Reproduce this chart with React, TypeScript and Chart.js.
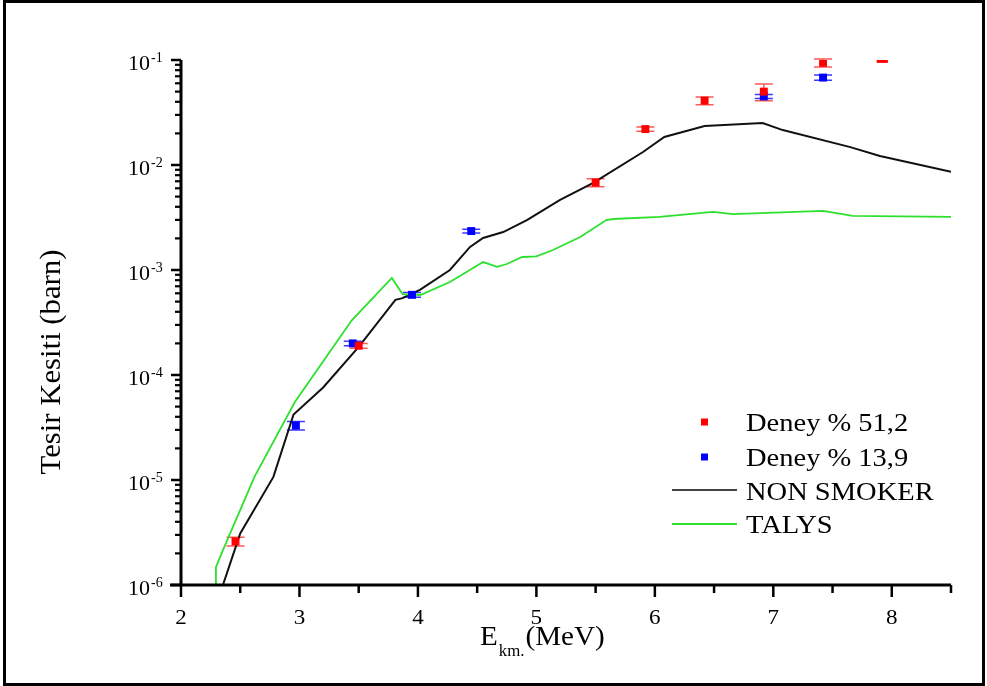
import React, { useEffect, useRef } from 'react';
import { Chart, registerables } from 'chart.js';

Chart.register(...registerables);

// ---- tick labels ----
const xTickValues = [2, 2.5, 3, 3.5, 4, 4.5, 5, 5.5, 6, 6.5, 7, 7.5, 8, 8.5];
const xTickLabels = ['2', '', '3', '', '4', '', '5', '', '6', '', '7', '', '8', ''];
const yDecadeValues = [1e-6, 1e-5, 1e-4, 1e-3, 1e-2, 1e-1];
const yDecadeExponents = ['-6', '-5', '-4', '-3', '-2', '-1'];
const yMinorMultipliers = [2, 3, 4, 5, 6, 7, 8, 9];

// ---- Deney % 51,2 (red) ----
const redX = [2.46, 3.5, 5.5, 5.92, 6.42, 6.92, 7.42, 7.92];
const redY = [2.6e-6, 1.9e-4, 6.8e-3, 0.022, 0.041, 0.05, 0.094, 0.097];
const redErr = [2.5e-7, 1e-5, 6e-4, 1e-3, 3.5e-3, 9e-3, 8e-3, 0];

// ---- Deney % 13,9 (blue) ----
const blueX = [2.97, 3.45, 3.95, 4.45, 6.92, 7.42];
const blueY = [3.3e-5, 2.0e-4, 5.8e-4, 2.35e-3, 0.045, 0.068];
const blueErr = [3e-6, 1e-5, 3e-5, 1e-4, 2e-3, 4e-3];

// ---- NON SMOKER ----
const nonSmokerX = [2.354, 2.5, 2.78, 2.95, 3.2, 3.5, 3.81, 3.87, 4.02, 4.27, 4.44, 4.55, 4.72, 4.92, 5.2, 5.48, 5.9, 6.08, 6.42, 6.91, 7.08, 7.65, 7.9, 8.5];
const nonSmokerY = [1e-6, 3.1e-6, 1.07e-5, 4.2e-5, 7.6e-5, 1.85e-4, 5.2e-4, 5.4e-4, 6.5e-4, 1e-3, 1.66e-3, 2.02e-3, 2.3e-3, 2.99e-3, 4.65e-3, 6.75e-3, 0.0133, 0.0185, 0.0235, 0.0251, 0.0215, 0.0148, 0.0122, 8.6e-3];

// ---- TALYS ----
const talysX = [2.29, 2.295, 2.354, 2.62, 2.96, 3.44, 3.78, 3.87, 4.02, 4.27, 4.55, 4.67, 4.75, 4.88, 5.0, 5.14, 5.37, 5.59, 5.65, 6.04, 6.49, 6.66, 7.42, 7.67, 8.5];
const talysY = [1e-6, 1.48e-6, 2.15e-6, 1.07e-5, 5.5e-5, 3.3e-4, 8.4e-4, 5.9e-4, 5.78e-4, 7.69e-4, 1.19e-3, 1.07e-3, 1.14e-3, 1.33e-3, 1.35e-3, 1.55e-3, 2.06e-3, 2.99e-3, 3.06e-3, 3.2e-3, 3.57e-3, 3.41e-3, 3.65e-3, 3.27e-3, 3.2e-3];

const legendLabels = ['Deney % 51,2', 'Deney % 13,9', 'NON SMOKER', 'TALYS'];

const SERIF = '"Liberation Serif", "Times New Roman", serif';
const RED = '#ff0000';
const BLUE = '#0000ff';
const GREEN = '#2ee02e';

const toPts = (xs: number[], ys: number[]) => xs.map((x, i) => ({ x, y: ys[i] }));

function drawText(ctx: CanvasRenderingContext2D, text: string, x: number, y: number, size: number, align: CanvasTextAlign, sx = 1) {
  ctx.save();
  ctx.translate(x, y);
  ctx.scale(sx, 1);
  ctx.font = `${size}px ${SERIF}`;
  ctx.textAlign = align;
  ctx.textBaseline = 'alphabetic';
  ctx.fillText(text, 0, 0);
  ctx.restore();
}

const errorBarPlugin = {
  id: 'errorBars',
  beforeDatasetsDraw(chart: any) {
    const { ctx, scales } = chart;
    const sets = [
      { xs: redX, ys: redY, es: redErr, color: '#ff5a5a' },
      { xs: blueX, ys: blueY, es: blueErr, color: '#3b3bff' },
    ];
    ctx.save();
    ctx.beginPath();
    ctx.rect(chart.chartArea.left, chart.chartArea.top - 2, chart.chartArea.width, chart.chartArea.height + 2);
    ctx.clip();
    sets.forEach((s) => {
      ctx.strokeStyle = s.color;
      ctx.lineWidth = 1.5;
      s.xs.forEach((xv, i) => {
        if (!s.es[i]) return;
        const px = scales.x.getPixelForValue(xv);
        const top = scales.y.getPixelForValue(s.ys[i] + s.es[i]);
        const bot = scales.y.getPixelForValue(s.ys[i] - s.es[i]);
        ctx.beginPath();
        ctx.moveTo(px, top);
        ctx.lineTo(px, bot);
        ctx.moveTo(px - 9, top);
        ctx.lineTo(px + 9, top);
        ctx.moveTo(px - 9, bot);
        ctx.lineTo(px + 9, bot);
        ctx.stroke();
      });
    });
    ctx.restore();
  },
};

const decorPlugin = {
  id: 'decor',
  afterDraw(chart: any) {
    const { ctx, scales, chartArea } = chart;
    const xs = scales.x;
    const ys = scales.y;
    ctx.save();
    ctx.fillStyle = '#000';
    ctx.strokeStyle = '#000';
    ctx.lineCap = 'butt';

    // axes lines
    ctx.lineWidth = 3;
    ctx.beginPath();
    ctx.moveTo(chartArea.left - 11, chartArea.bottom);
    ctx.lineTo(chartArea.right, chartArea.bottom);
    ctx.moveTo(chartArea.left, chartArea.top);
    ctx.lineTo(chartArea.left, chartArea.bottom + 1.5);
    ctx.stroke();

    // x ticks and labels
    ctx.lineWidth = 2.5;
    xTickValues.forEach((v, i) => {
      const px = xs.getPixelForValue(v);
      const major = xTickLabels[i] !== '';
      ctx.beginPath();
      ctx.moveTo(px, chartArea.bottom);
      ctx.lineTo(px, chartArea.bottom + (major ? 12 : 8));
      ctx.stroke();
      if (major) drawText(ctx, xTickLabels[i], px, chartArea.bottom + 38.5, 22, 'center', 1.05);
    });

    // y ticks and labels
    yDecadeValues.forEach((v, i) => {
      const py = ys.getPixelForValue(v);
      ctx.lineWidth = 2.5;
      ctx.beginPath();
      ctx.moveTo(chartArea.left - 10, py);
      ctx.lineTo(chartArea.left, py);
      ctx.stroke();
      if (i < yDecadeValues.length - 1) {
        ctx.lineWidth = 2.2;
        yMinorMultipliers.forEach((m) => {
          const pm = ys.getPixelForValue(v * m);
          ctx.beginPath();
          ctx.moveTo(chartArea.left - 6, pm);
          ctx.lineTo(chartArea.left, pm);
          ctx.stroke();
        });
      }
      drawText(ctx, '10', chartArea.left - 31, py + 10, 22, 'right', 1.0);
      drawText(ctx, yDecadeExponents[i], chartArea.left - 30, py + 2, 14, 'left', 1.0);
    });

    // x title with subscript
    ctx.font = `28px ${SERIF}`;
    const sxT = 1.04;
    let tx = 480;
    drawText(ctx, 'E', tx, 645, 28, 'left', sxT);
    ctx.font = `28px ${SERIF}`;
    tx += ctx.measureText('E').width * sxT + 1;
    drawText(ctx, 'km.', tx, 656, 16, 'left', 1.05);
    ctx.font = `16px ${SERIF}`;
    tx += ctx.measureText('km.').width * 1.05 + 1;
    drawText(ctx, '(MeV)', tx, 645, 28, 'left', sxT);

    // y title
    ctx.save();
    ctx.translate(60, 362);
    ctx.rotate(-Math.PI / 2);
    ctx.scale(1.06, 1);
    ctx.textAlign = 'center';
    ctx.font = `29px ${SERIF}`;
    ctx.fillText('Tesir Kesiti (barn)', 0, 0);
    ctx.restore();

    // legend
    const rows = [422, 457, 490, 524];
    const baselines = [431, 466, 500, 533];
    legendLabels.forEach((lab, i) => {
      const y = rows[i];
      if (i === 0 || i === 1) {
        ctx.fillStyle = i === 0 ? RED : BLUE;
        ctx.fillRect(701, y - 3.5, 7, 7);
      } else {
        ctx.strokeStyle = i === 2 ? '#444' : GREEN;
        ctx.lineWidth = 2;
        ctx.beginPath();
        ctx.moveTo(672, y);
        ctx.lineTo(737, y);
        ctx.stroke();
      }
      ctx.fillStyle = '#000';
      drawText(ctx, lab, 746, baselines[i], 25, 'left', 1.14);
    });

    // outer frame
    ctx.strokeStyle = '#000';
    ctx.lineWidth = 3;
    ctx.strokeRect(4.5, 1.5, 979, 683);
    ctx.restore();
  },
};

export default function App() {
  const ref = useRef<HTMLCanvasElement | null>(null);

  useEffect(() => {
    if (!ref.current) return;
    const chart = new Chart(ref.current, {
      type: 'scatter',
      data: {
        datasets: [
          {
            label: legendLabels[0],
            data: toPts(redX, redY),
            backgroundColor: RED,
            borderColor: RED,
            pointStyle: redX.map((_, i) => (i === redX.length - 1 ? 'line' : 'rect')) as any,
            pointRadius: 5.6,
            pointBorderWidth: redX.map((_, i) => (i === redX.length - 1 ? 3 : 0)) as any,
            order: 0,
          },
          {
            label: legendLabels[1],
            data: toPts(blueX, blueY),
            backgroundColor: BLUE,
            borderColor: BLUE,
            pointStyle: 'rect',
            pointRadius: 5.6,
            pointBorderWidth: 0,
            order: 1,
          },
          {
            label: legendLabels[2],
            data: toPts(nonSmokerX, nonSmokerY),
            showLine: true,
            borderColor: '#111',
            borderWidth: 2,
            pointRadius: 0,
            tension: 0,
            order: 3,
          },
          {
            label: legendLabels[3],
            data: toPts(talysX, talysY),
            showLine: true,
            borderColor: GREEN,
            borderWidth: 1.8,
            pointRadius: 0,
            tension: 0,
            order: 2,
          },
        ],
      },
      options: {
        responsive: false,
        animation: false,
        devicePixelRatio: 1,
        layout: { padding: { left: 181, right: 36, top: 60, bottom: 101 } },
        scales: {
          x: { type: 'linear', min: 2, max: 8.5, display: false },
          y: { type: 'logarithmic', min: 1e-6, max: 0.1, display: false },
        },
        plugins: {
          legend: { display: false },
          tooltip: { enabled: false },
        },
      },
      plugins: [errorBarPlugin, decorPlugin],
    });
    return () => chart.destroy();
  }, []);

  return (
    <div style={{ position: 'fixed', left: 0, top: 0, width: 987, height: 686, background: '#fff' }}>
      <canvas ref={ref} width={987} height={686} style={{ display: 'block' }} />
    </div>
  );
}
